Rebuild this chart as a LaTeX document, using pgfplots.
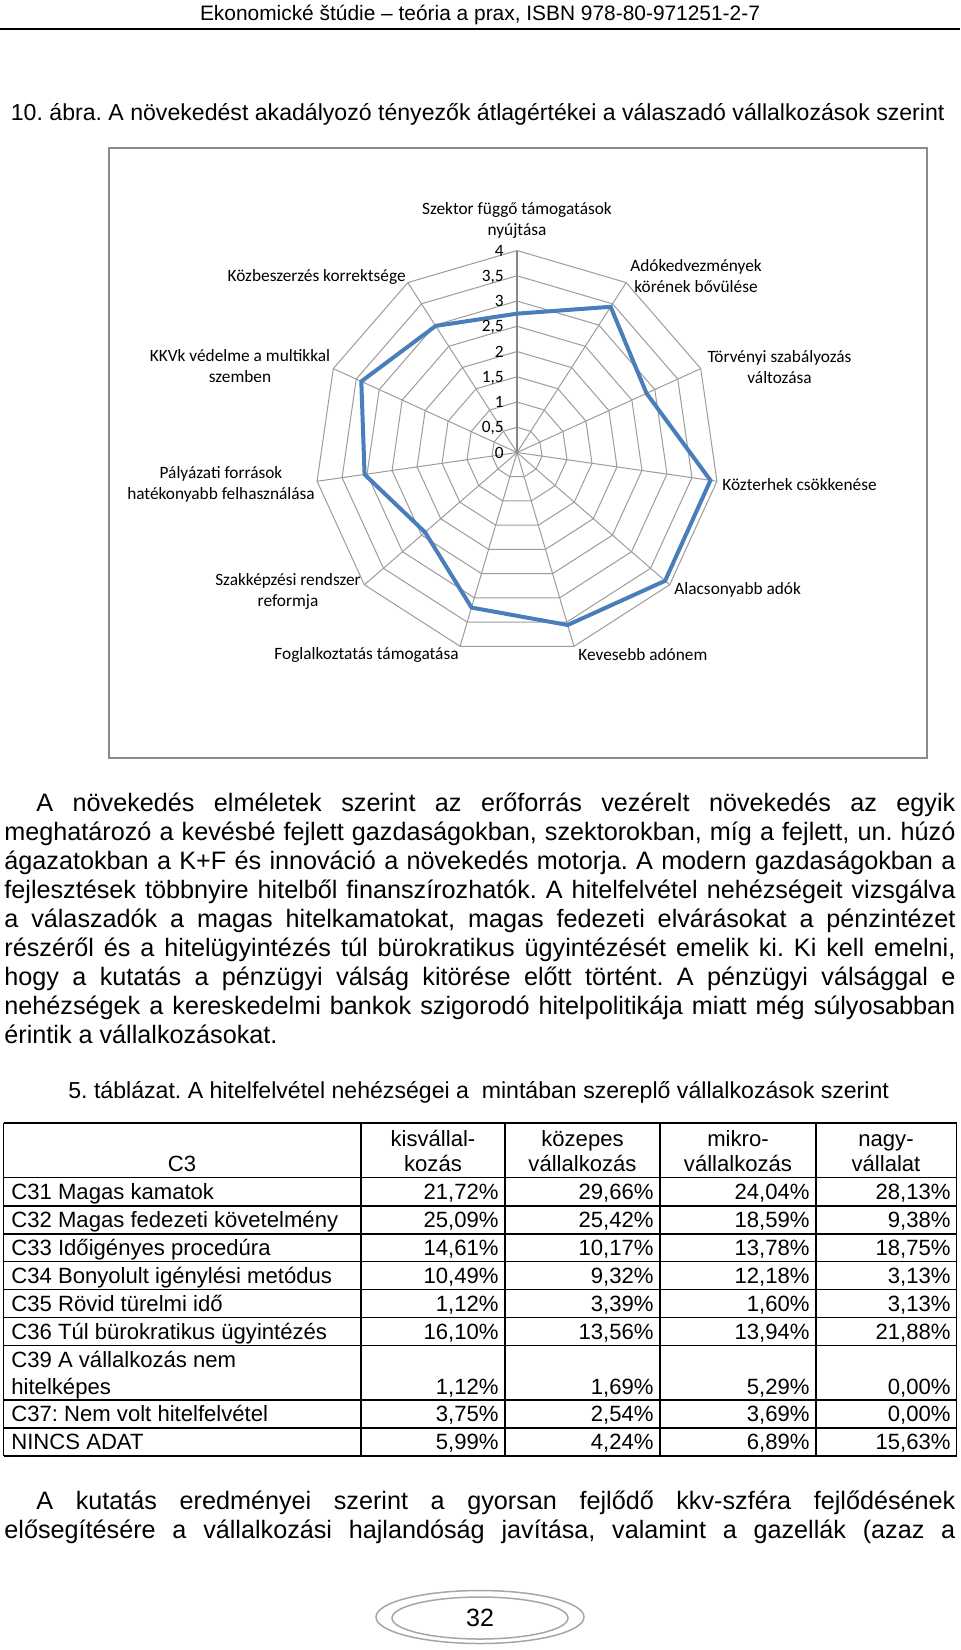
\documentclass[border=0pt]{standalone}
\usepackage{fontspec}
\usepackage{pgfplots}
\pgfplotsset{compat=1.18}
\setmainfont{Liberation Sans}
\newfontfamily\calibri{Carlito}
\definecolor{serblue}{HTML}{4A7EBB}
\definecolor{gridgray}{HTML}{9C9C9C}
\definecolor{axisgray}{HTML}{868686}
\definecolor{framegray}{HTML}{8A8A8A}
\newcommand\bodyfont{\fontsize{12.6bp}{14bp}\selectfont}
\newcommand\capfont{\fontsize{11.55bp}{13bp}\selectfont}
\newcommand\tabfont{\fontsize{11.05bp}{13bp}\selectfont}
\newcommand\chfont{\calibri\fontsize{8.65bp}{10.5bp}\selectfont}
\frenchspacing
\begin{document}
\begin{tikzpicture}[x=0.5bp,y=-0.5bp]
\path[use as bounding box,fill=white] (0,0) rectangle (960,1650);
% header
\node[anchor=base,inner sep=0,font=\fontsize{10.45bp}{12bp}\selectfont] at (480,20) {Ekonomické štúdie – teória a prax, ISBN 978-80-971251-2-7};
\draw[line width=1bp] (0,28.5) -- (960,28.5);
\node[anchor=base west,inner sep=0,font=\capfont] at (10.5,120) {10. ábra. A növekedést akadályozó tényezők átlagértékei a válaszadó vállalkozások szerint};
% chart frame
\draw[framegray,line width=1bp] (108.5,148) rectangle (927,758);
% radar chart
\begin{axis}[at={(258.5bp,-226.25bp)},anchor=center,scale only axis,
  width=202bp,height=202bp,xmin=-4,xmax=4,ymin=-4,ymax=4,
  hide axis,clip=false,data cs=polar]
\pgfplotsinvokeforeach{0.5,1,1.5,2,2.5,3,3.5,4}{
  \addplot[gridgray,line width=0.5bp] coordinates {(90,#1) (57.2727,#1) (24.5455,#1) (-8.1818,#1) (-40.9091,#1) (-73.6364,#1) (-106.3636,#1) (-139.0909,#1) (-171.8182,#1) (-204.5455,#1) (-237.2727,#1) (-270,#1)};
}
\pgfplotsinvokeforeach{57.2727,24.5455,-8.1818,-40.9091,-73.6364,-106.3636,-139.0909,-171.8182,-204.5455,-237.2727}{
  \addplot[gridgray,line width=0.5bp] coordinates {(#1,0) (#1,4)};
}
\addplot[axisgray,line width=0.75bp] coordinates {(90,0) (90,4)};
\addplot[serblue,line width=2bp] coordinates {(90,2.75) (57.2727,3.43) (24.5455,2.82) (-8.1818,3.87) (-40.9091,3.88) (-73.6364,3.56) (-106.3636,3.20) (-139.0909,2.41) (-171.8182,3.05) (-204.5455,3.39) (-237.2727,2.98) (-270,2.75)};
\end{axis}
% radial tick labels
\begin{scope}[every node/.style={anchor=base east,inner sep=0,font=\chfont}]
\node at (504,256.2) {4};
\node at (504,281.4) {3,5};
\node at (504,306.7) {3};
\node at (504,331.9) {2,5};
\node at (504,357.1) {2};
\node at (504,382.3) {1,5};
\node at (504,407.6) {1};
\node at (504,432.8) {0,5};
\node at (504,458.0) {0};
\end{scope}
% category labels
\begin{scope}[every node/.style={inner sep=0,font=\chfont,align=center}]
\node at (517,220) {Szektor függő támogatások\\nyújtása};
\node at (696,276) {Adókedvezmények\\körének bővülése};
\node at (779.5,367) {Törvényi szabályozás\\változása};
\node[anchor=west] at (722,485) {Közterhek csökkenése};
\node[anchor=west] at (674,590) {Alacsonyabb adók};
\node[anchor=west] at (578,655) {Kevesebb adónem};
\node[anchor=east] at (459,655) {Foglalkoztatás támogatása};
\node at (288,591) {Szakképzési rendszer\\reformja};
\node at (221,484) {Pályázati források\\hatékonyabb felhasználása};
\node at (240,366) {KKVk védelme a multikkal\\szemben};
\node[anchor=east] at (406,277) {Közbeszerzés korrektsége};
\end{scope}
% paragraph 1
\begin{scope}[every node/.style={anchor=base west,inner sep=0,font=\bodyfont}]
\node at (36,811) {\makebox[459.5bp][s]{A növekedés elméletek szerint az erőforrás vezérelt növekedés az egyik}};
\node at (4,840) {\makebox[475.5bp][s]{meghatározó a kevésbé fejlett gazdaságokban, szektorokban, míg a fejlett, un. húzó}};
\node at (4,869) {\makebox[475.5bp][s]{ágazatokban a K+F és innováció a növekedés motorja. A modern gazdaságokban a}};
\node at (4,898) {\makebox[475.5bp][s]{fejlesztések többnyire hitelből finanszírozhatók. A hitelfelvétel nehézségeit vizsgálva}};
\node at (4,927) {\makebox[475.5bp][s]{a válaszadók a magas hitelkamatokat, magas fedezeti elvárásokat a pénzintézet}};
\node at (4,956) {\makebox[475.5bp][s]{részéről és a hitelügyintézés túl bürokratikus ügyintézését emelik ki. Ki kell emelni,}};
\node at (4,985) {\makebox[475.5bp][s]{hogy a kutatás a pénzügyi válság kitörése előtt történt. A pénzügyi válsággal e}};
\node at (4,1014) {\makebox[475.5bp][s]{nehézségek a kereskedelmi bankok szigorodó hitelpolitikája miatt még súlyosabban}};
\node at (4,1043) {érintik a vállalkozásokat.};
\node[font=\capfont] at (68,1098) {5. táblázat. A hitelfelvétel nehézségei a\ \ mintában szereplő vállalkozások szerint};
\node at (36,1509) {\makebox[459.5bp][s]{A kutatás eredményei szerint a gyorsan fejlődő kkv-szféra fejlődésének}};
\node at (4,1538) {\makebox[475.5bp][s]{elősegítésére a vállalkozási hajlandóság javítása, valamint a gazellák (azaz a}};
\end{scope}
% table grid
\begin{scope}[line width=0.75bp]
\foreach \yy in {1123,1177.6,1206,1233.8,1261.5,1289.3,1317.4,1345.5,1400,1427.8,1456}
  \draw (3.5,\yy) -- (956.5,\yy);
\foreach \xx in {3.5,361,505,660,816,956.5}
  \draw (\xx,1123) -- (\xx,1456);
\end{scope}
% table header
\begin{scope}[every node/.style={anchor=base,inner sep=0,font=\tabfont}]
\node at (182,1171) {C3};
\node at (433,1146) {kisvállal-}; \node at (433,1171) {kozás};
\node at (582.5,1146) {közepes}; \node at (582.5,1171) {vállalkozás};
\node at (738,1146) {mikro-}; \node at (738,1171) {vállalkozás};
\node at (886,1146) {nagy-}; \node at (886,1171) {vállalat};
\end{scope}
% table rows
\begin{scope}[every node/.style={anchor=base west,inner sep=0,font=\tabfont}]
\node at (11,1199.5) {C31 Magas kamatok};
\node at (11,1227.5) {C32 Magas fedezeti követelmény};
\node at (11,1255.5) {C33 Időigényes procedúra};
\node at (11,1283) {C34 Bonyolult igénylési metódus};
\node at (11,1311) {C35 Rövid türelmi idő};
\node at (11,1339) {C36 Túl bürokratikus ügyintézés};
\node at (11,1367) {C39 A vállalkozás nem};
\node at (11,1394) {hitelképes};
\node at (11,1421.5) {C37: Nem volt hitelfelvétel};
\node at (11,1449.5) {NINCS ADAT};
\end{scope}
\begin{scope}[every node/.style={anchor=base east,inner sep=0,font=\tabfont}]
\node at (499,1199.5) {21,72\%}; \node at (654,1199.5) {29,66\%}; \node at (810,1199.5) {24,04\%}; \node at (951,1199.5) {28,13\%};
\node at (499,1227.5) {25,09\%}; \node at (654,1227.5) {25,42\%}; \node at (810,1227.5) {18,59\%}; \node at (951,1227.5) {9,38\%};
\node at (499,1255.5) {14,61\%}; \node at (654,1255.5) {10,17\%}; \node at (810,1255.5) {13,78\%}; \node at (951,1255.5) {18,75\%};
\node at (499,1283) {10,49\%}; \node at (654,1283) {9,32\%}; \node at (810,1283) {12,18\%}; \node at (951,1283) {3,13\%};
\node at (499,1311) {1,12\%}; \node at (654,1311) {3,39\%}; \node at (810,1311) {1,60\%}; \node at (951,1311) {3,13\%};
\node at (499,1339) {16,10\%}; \node at (654,1339) {13,56\%}; \node at (810,1339) {13,94\%}; \node at (951,1339) {21,88\%};
\node at (499,1394) {1,12\%}; \node at (654,1394) {1,69\%}; \node at (810,1394) {5,29\%}; \node at (951,1394) {0,00\%};
\node at (499,1421.5) {3,75\%}; \node at (654,1421.5) {2,54\%}; \node at (810,1421.5) {3,69\%}; \node at (951,1421.5) {0,00\%};
\node at (499,1449.5) {5,99\%}; \node at (654,1449.5) {4,24\%}; \node at (810,1449.5) {6,89\%}; \node at (951,1449.5) {15,63\%};
\end{scope}
% page number
\draw[gray!70,line width=0.75bp] (480,1617) ellipse [x radius=104,y radius=26.5];
\draw[gray!70,line width=0.75bp] (480,1618) ellipse [x radius=88,y radius=21];
\node[anchor=base,inner sep=0,font=\fontsize{12.5bp}{14bp}\selectfont] at (480,1626) {32};
\end{tikzpicture}
\end{document}
